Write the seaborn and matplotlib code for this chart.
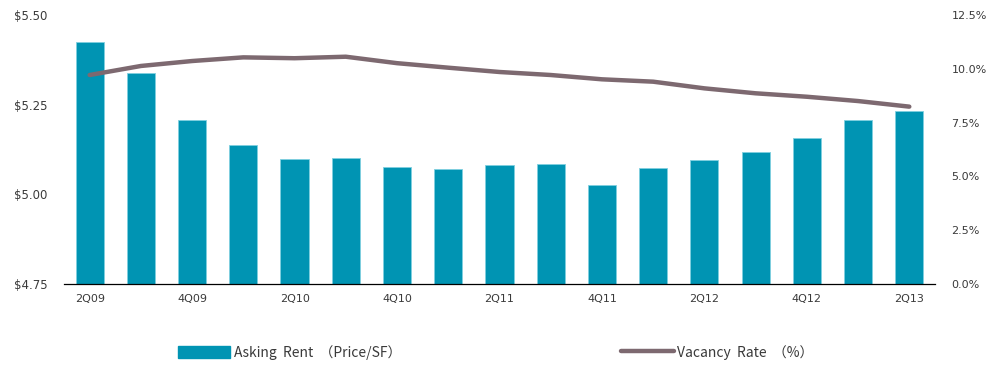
import numpy as np
import pandas as pd
import matplotlib
matplotlib.use("Agg")
import matplotlib.pyplot as plt
from matplotlib.patches import Patch
from matplotlib.lines import Line2D
import seaborn as sns

# Quarterly office market figures
quarters = ["2Q09", "3Q09", "4Q09", "1Q10", "2Q10", "3Q10", "4Q10", "1Q11", "2Q11",
            "3Q11", "4Q11", "1Q12", "2Q12", "3Q12", "4Q12", "1Q13", "2Q13"]
asking_rent = [5.424, 5.337, 5.206, 5.138, 5.099, 5.102, 5.077, 5.070, 5.082,
               5.085, 5.027, 5.073, 5.096, 5.117, 5.156, 5.206, 5.231]
vacancy_rate = [9.71, 10.13, 10.36, 10.53, 10.49, 10.56, 10.26, 10.05, 9.85,
                9.71, 9.51, 9.40, 9.09, 8.86, 8.70, 8.50, 8.24]
rent_ticks = [4.75, 5.00, 5.25, 5.50]
vac_ticks = [0.0, 2.5, 5.0, 7.5, 10.0, 12.5]
shown_labels = ["2Q09", "4Q09", "2Q10", "4Q10", "2Q11", "4Q11", "2Q12", "4Q12", "2Q13"]

bar_color = "#0094B3"
line_color = "#7D6970"
text_color = "#3A3A3A"

sns.set_theme(style="white")
plt.rcParams["font.family"] = ["DejaVu Sans"]

df = pd.DataFrame({"quarter": quarters, "rent": asking_rent,
                   "vacancy": vacancy_rate, "pos": np.arange(len(quarters))})

fig = plt.figure(figsize=(9.93, 3.65), dpi=100)
ax = fig.add_axes([0.0645, 0.222, 0.877, 0.737])

sns.barplot(data=df, x="quarter", y="rent", color=bar_color, saturation=1,
            width=0.55, ax=ax, edgecolor="#7FD0E0", linewidth=0.6)
ax.set_ylim(4.75, 5.50)
ax.set_xlim(-0.5, len(quarters) - 0.5)
ax.set_yticks(rent_ticks)
ax.set_yticklabels([f"${v:.2f}" for v in rent_ticks], fontsize=8.5, color=text_color)
ax.set_xlabel("")
ax.set_ylabel("")

# Category labels every other quarter, tick marks at the category boundaries
ax.set_xticks([quarters.index(q) for q in shown_labels])
ax.set_xticklabels(shown_labels, fontsize=8, color=text_color)
ax.tick_params(axis="x", which="major", length=0, pad=7)
ax.set_xticks(np.arange(-0.5, len(quarters)), minor=True)
ax.tick_params(axis="x", which="minor", length=5, width=0.9, color="black", direction="out")
ax.tick_params(axis="y", length=0, pad=12)

for s in ["top", "right", "left"]:
    ax.spines[s].set_visible(False)
ax.spines["bottom"].set_color("black")
ax.spines["bottom"].set_linewidth(0.9)

ax2 = ax.twinx()
sns.lineplot(data=df, x="pos", y="vacancy", color=line_color, linewidth=3.2,
             ax=ax2, solid_capstyle="round")
ax2.set_ylim(0, 12.5)
ax2.set_yticks(vac_ticks)
ax2.set_yticklabels([f"{v:.1f}%" for v in vac_ticks], fontsize=8, color=text_color)
ax2.tick_params(axis="y", length=0, pad=12)
ax2.set_ylabel("")
for s in ["top", "right", "left", "bottom"]:
    ax2.spines[s].set_visible(False)
ax.set_xlim(-0.5, len(quarters) - 0.5)

handles = [Patch(facecolor=bar_color, edgecolor=bar_color),
           Line2D([0], [0], color=line_color, linewidth=3.2)]
labels = ["Asking  Rent  （Price/SF）", "Vacancy  Rate  （%）"]
leg = fig.legend(handles, labels, loc="center", bbox_to_anchor=(0.499, 0.035),
                 ncol=2, frameon=False, handlelength=3.8, handleheight=0.9,
                 handletextpad=0.25, columnspacing=15.8,
                 prop={"family": ["Noto Sans CJK JP", "DejaVu Sans"], "size": 10})
for t in leg.get_texts():
    t.set_color(text_color)

fig.savefig("out.png", dpi=100, facecolor="white")
